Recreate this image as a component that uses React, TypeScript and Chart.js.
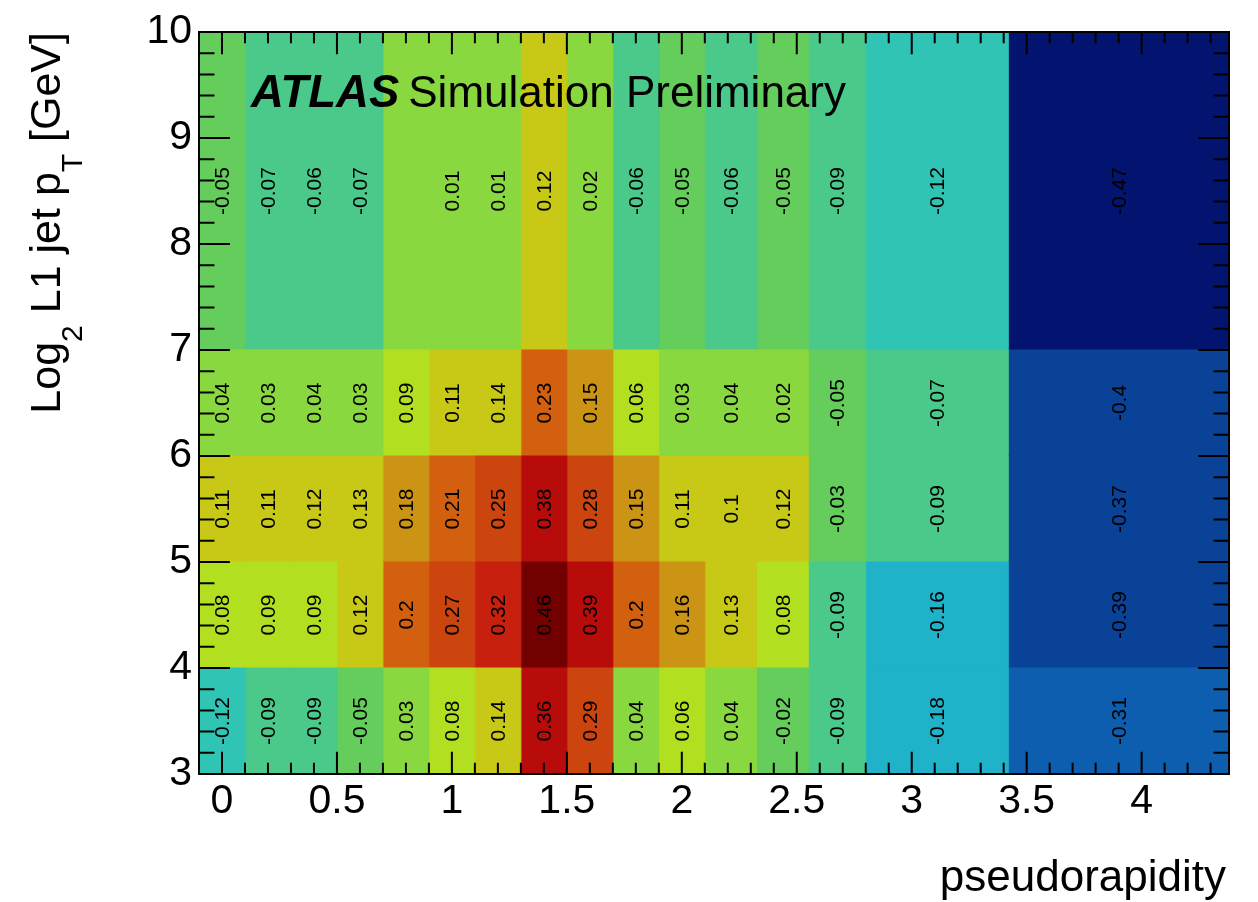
import React, { useEffect, useRef } from "react";
import { Chart, registerables } from "chart.js";

Chart.register(...registerables);

// ---- data ----
const etaEdges = [-0.1, 0.1, 0.3, 0.5, 0.7, 0.9, 1.1, 1.3, 1.5, 1.7, 1.9, 2.1, 2.325, 2.55, 2.8, 3.42, 4.38];
const log2PtEdges = [3, 4, 5, 6, 7, 10];

const row3to4 = [-0.12, -0.09, -0.09, -0.05, 0.03, 0.08, 0.14, 0.36, 0.29, 0.04, 0.06, 0.04, -0.02, -0.09, -0.18, -0.31];
const row4to5 = [0.08, 0.09, 0.09, 0.12, 0.2, 0.27, 0.32, 0.46, 0.39, 0.2, 0.16, 0.13, 0.08, -0.09, -0.16, -0.39];
const row5to6 = [0.11, 0.11, 0.12, 0.13, 0.18, 0.21, 0.25, 0.38, 0.28, 0.15, 0.11, 0.1, 0.12, -0.03, -0.09, -0.37];
const row6to7 = [0.04, 0.03, 0.04, 0.03, 0.09, 0.11, 0.14, 0.23, 0.15, 0.06, 0.03, 0.04, 0.02, -0.05, -0.07, -0.4];
const row7to10 = [-0.05, -0.07, -0.06, -0.07, 0, 0.01, 0.01, 0.12, 0.02, -0.06, -0.05, -0.06, -0.05, -0.09, -0.12, -0.47];
const cellRows = [row3to4, row4to5, row5to6, row6to7, row7to10];

const xTickValues = [0, 0.5, 1, 1.5, 2, 2.5, 3, 3.5, 4];
const xTickLabels = ["0", "0.5", "1", "1.5", "2", "2.5", "3", "3.5", "4"];
const yTickValues = [3, 4, 5, 6, 7, 8, 9, 10];
const yTickLabels = ["3", "4", "5", "6", "7", "8", "9", "10"];

// colour scale: 20 levels over [-0.5, 0.5]
const zMin = -0.5;
const zStep = 0.05;
const palette = [
  "#031470", "#072c86", "#0a4297", "#0d5eae", "#1278b8",
  "#1896c2", "#1fb2c8", "#30c4b5", "#4ac98a", "#64cd5c",
  "#8ad83f", "#b2e020", "#c8c816", "#cc9414", "#d2600e",
  "#cc440e", "#c8200e", "#b80c0a", "#960505", "#720000",
];

const FONT = "'Liberation Sans', Arial, Helvetica, sans-serif";

function colorFor(v: number): string {
  let k = Math.floor((v - zMin) / zStep + 1e-6);
  k = Math.max(0, Math.min(palette.length - 1, k));
  return palette[k];
}

const overlayPlugin = {
  id: "rootOverlay",
  afterDatasetsDraw(chart: any) {
    const { ctx, chartArea: a } = chart;
    const x = chart.scales.x;
    const y = chart.scales.y;
    ctx.save();

    // bin content text (TEXT90)
    ctx.fillStyle = "#000";
    ctx.font = `21px ${FONT}`;
    ctx.textAlign = "center";
    ctx.textBaseline = "middle";
    cellRows.forEach((row, j) => {
      row.forEach((v, i) => {
        if (v === 0) return;
        const cx = (x.getPixelForValue(etaEdges[i]) + x.getPixelForValue(etaEdges[i + 1])) / 2;
        const cy = (y.getPixelForValue(log2PtEdges[j]) + y.getPixelForValue(log2PtEdges[j + 1])) / 2;
        ctx.save();
        ctx.translate(cx + 1.5, cy);
        ctx.rotate(-Math.PI / 2);
        ctx.fillText(String(v), 0, 0);
        ctx.restore();
      });
    });

    // ticks (inside the frame, all four sides)
    ctx.strokeStyle = "#000";
    ctx.lineWidth = 2;
    ctx.beginPath();
    const xLen = 0.03 * a.height;
    for (let k = -1; k <= 44; k++) {
      const v = k / 10;
      if (v <= x.min + 1e-6 || v >= x.max - 1e-6) continue;
      const px = x.getPixelForValue(v);
      const len = k % 5 === 0 ? xLen : xLen / 2;
      ctx.moveTo(px, a.bottom);
      ctx.lineTo(px, a.bottom - len);
      ctx.moveTo(px, a.top);
      ctx.lineTo(px, a.top + len);
    }
    const yLen = 0.03 * a.width;
    for (let k = 15; k <= 50; k++) {
      const v = k / 5;
      const py = y.getPixelForValue(v);
      const len = k % 5 === 0 ? yLen : yLen / 2;
      ctx.moveTo(a.left, py);
      ctx.lineTo(a.left + len, py);
      ctx.moveTo(a.right, py);
      ctx.lineTo(a.right - len, py);
    }
    ctx.stroke();
    ctx.strokeRect(a.left, a.top, a.right - a.left, a.bottom - a.top);

    // ATLAS label
    ctx.textAlign = "left";
    ctx.textBaseline = "alphabetic";
    const lx = a.left + 52;
    const ly = a.top + 75;
    ctx.font = `italic bold 45.5px ${FONT}`;
    ctx.fillText("ATLAS", lx, ly);
    const w = ctx.measureText("ATLAS").width;
    ctx.font = `44px ${FONT}`;
    ctx.fillText("Simulation Preliminary", lx + w + 9, ly);

    // x title
    ctx.font = `44px ${FONT}`;
    ctx.textAlign = "right";
    ctx.fillText("pseudorapidity", a.right - 3, a.bottom + 117);

    // y title with subscripts
    const parts = [
      { t: "Log", sub: false },
      { t: "2", sub: true },
      { t: " L1 jet p", sub: false },
      { t: "T", sub: true },
      { t: " [GeV]", sub: false },
    ];
    const mainF = `43px ${FONT}`;
    const subF = `30px ${FONT}`;
    let total = 0;
    const widths = parts.map((p) => {
      ctx.font = p.sub ? subF : mainF;
      const ww = ctx.measureText(p.t).width;
      total += ww;
      return ww;
    });
    ctx.save();
    ctx.translate(60, a.top + total);
    ctx.rotate(-Math.PI / 2);
    ctx.textAlign = "left";
    let off = 0;
    parts.forEach((p, i) => {
      ctx.font = p.sub ? subF : mainF;
      ctx.fillText(p.t, off, p.sub ? 22 : 0);
      off += widths[i];
    });
    ctx.restore();

    ctx.restore();
  },
};

export default function App() {
  const ref = useRef<HTMLCanvasElement | null>(null);

  useEffect(() => {
    if (!ref.current) return;
    const datasets: any[] = [];
    cellRows.forEach((row, j) => {
      row.forEach((v, i) => {
        const c = colorFor(v);
        const x0 = etaEdges[i];
        const x1 = etaEdges[i + 1];
        const y0 = log2PtEdges[j];
        const y1 = log2PtEdges[j + 1];
        datasets.push({
          data: [
            { x: x0, y: y0 },
            { x: x1, y: y0 },
            { x: x1, y: y1 },
            { x: x0, y: y1 },
            { x: x0, y: y0 },
          ],
          showLine: true,
          fill: "shape",
          backgroundColor: c,
          borderColor: c,
          borderWidth: 1,
          pointRadius: 0,
          pointHoverRadius: 0,
          tension: 0,
        });
      });
    });

    const chart = new Chart(ref.current, {
      type: "scatter",
      data: { datasets },
      options: {
        responsive: false,
        maintainAspectRatio: false,
        animation: false,
        events: [],
        layout: { autoPadding: false, padding: { left: 0, top: 32, right: 29, bottom: 0 } },
        plugins: {
          legend: { display: false },
          tooltip: { enabled: false },
          title: { display: false },
        },
        scales: {
          x: {
            type: "linear",
            min: etaEdges[0],
            max: etaEdges[etaEdges.length - 1],
            afterBuildTicks: (s: any) => {
              s.ticks = xTickValues.map((v) => ({ value: v }));
            },
            afterFit: (s: any) => {
              s.height = 128;
            },
            grid: { display: false, drawTicks: false },
            border: { display: false },
            ticks: {
              autoSkip: false,
              maxRotation: 0,
              minRotation: 0,
              color: "#000",
              padding: 3,
              font: { family: FONT, size: 41 },
              callback: (_v: any, i: number) => xTickLabels[i],
            },
          },
          y: {
            type: "linear",
            min: log2PtEdges[0],
            max: log2PtEdges[log2PtEdges.length - 1],
            afterBuildTicks: (s: any) => {
              s.ticks = yTickValues.map((v) => ({ value: v }));
            },
            afterFit: (s: any) => {
              s.width = 199;
            },
            grid: { display: false, drawTicks: false },
            border: { display: false },
            ticks: {
              autoSkip: false,
              color: "#000",
              padding: 7,
              font: { family: FONT, size: 41 },
              callback: (_v: any, i: number) => yTickLabels[i],
            },
          },
        },
      },
      plugins: [overlayPlugin],
    } as any);

    return () => chart.destroy();
  }, []);

  return (
    <div style={{ position: "fixed", left: 0, top: 0, width: 1258, height: 902, background: "#fff" }}>
      <canvas ref={ref} width={1258} height={902} style={{ display: "block", width: 1258, height: 902 }} />
    </div>
  );
}
